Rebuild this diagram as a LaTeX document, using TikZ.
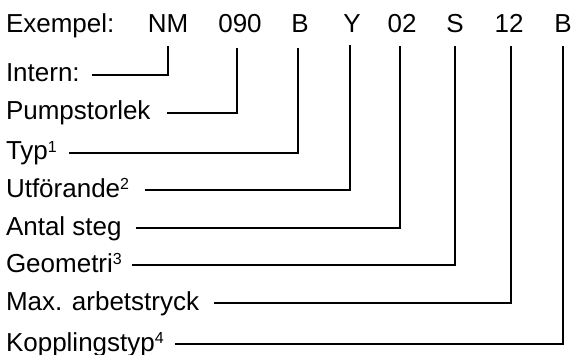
\documentclass[tikz,border=0pt]{standalone}
\usepackage{fontspec}
\setmainfont{Liberation Sans}
\newcommand\supnum[1]{\raisebox{7.5pt}{\fontsize{16}{16}\selectfont #1}}
\tikzset{
  txt/.style={inner sep=0pt, outer sep=0pt, font=\fontsize{26}{30}\selectfont},
  lab/.style={txt, anchor=base west},
  code/.style={txt, anchor=base},
  lead/.style={line width=1.4pt, line cap=butt, line join=miter}
}
\begin{document}
\begin{tikzpicture}[x=1pt, y=-1pt]
\useasboundingbox (0,0) rectangle (572,355);

% example code along the top
\node[lab]  (ex) at (6,33)   {Exempel:};
\node[code] (c1) at (168,33) {NM};
\node[code] (c2) at (240,33) {090};
\node[code] (c3) at (300,33) {B};
\node[code] (c4) at (352,33) {Y};
\node[code] (c5) at (402,33) {02};
\node[code] (c6) at (455,33) {S};
\node[code] (c7) at (509,33) {12};
\node[code] (c8) at (563,33) {B};

% field names
\node[lab] (l1) at (6,82)  {Intern:};
\node[lab] (l2) at (6,120) {Pumpstorlek};
\node[lab] (l3) at (6,160) {Typ\supnum{1}};
\node[lab] (l4) at (6,197) {Utförande\supnum{2}};
\node[lab] (l5) at (6,235) {Antal steg};
\node[lab] (l6) at (6,272) {Geometri\supnum{3}};
\node[lab] (l7) at (6,310) {Max. arbetstryck};
\node[lab] (l8) at (6,351) {Kopplingstyp\supnum{4}};

% leader lines from each name up to its part of the code
\draw[lead] ([xshift=12pt,yshift=7pt]l1.base east) -| ([yshift=-13pt]c1.base);
\draw[lead] ([xshift=16pt,yshift=7pt]l2.base east) -| ([xshift=-3pt,yshift=-15pt]c2.base);
\draw[lead] ([xshift=12pt,yshift=7pt]l3.base east) -| ([xshift=-2pt,yshift=-15pt]c3.base);
\draw[lead] ([xshift=16pt,yshift=7pt]l4.base east) -| ([xshift=-2pt,yshift=-12pt]c4.base);
\draw[lead] ([xshift=14pt,yshift=7pt]l5.base east) -| ([xshift=-2pt,yshift=-13pt]c5.base);
\draw[lead] ([xshift=10pt,yshift=7pt]l6.base east) -| ([yshift=-13pt]c6.base);
\draw[lead] ([xshift=15pt,yshift=7pt]l7.base east) -| ([xshift=2pt,yshift=-13pt]c7.base);
\draw[lead] ([xshift=11pt,yshift=7pt]l8.base east) -| ([yshift=-13pt]c8.base);
\end{tikzpicture}
\end{document}
